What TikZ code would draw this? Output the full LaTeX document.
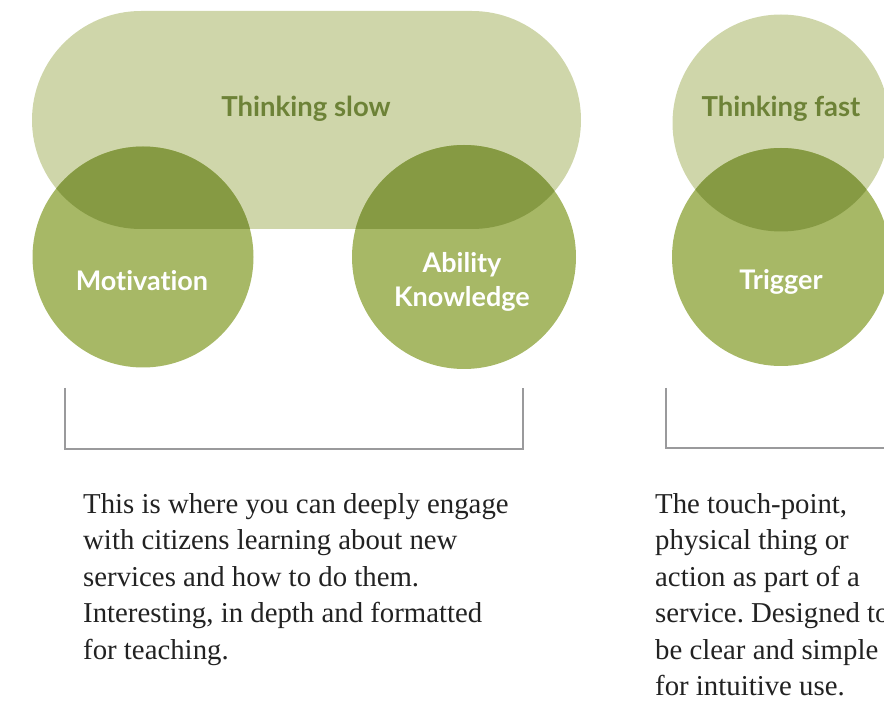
\documentclass[tikz,border=0pt]{standalone}
\usepackage{fontspec}
\setmainfont{Liberation Serif}
\newfontfamily\labelfont[Ligatures=NoCommon]{Lato}
\definecolor{lightg}{HTML}{CFD6AA}
\definecolor{midg}{HTML}{A7B866}
\definecolor{darkg}{HTML}{869A43}
\definecolor{titleg}{HTML}{6D8237}
\definecolor{bodytext}{HTML}{222222}
\definecolor{bracketg}{HTML}{9A9A9C}
\frenchspacing
\begin{document}
\begin{tikzpicture}[x=1pt,y=-1pt,
  lighttitle/.style={font=\labelfont\bfseries\fontsize{27.5}{30}\selectfont, text=titleg, inner sep=0pt},
  whitelabel/.style={font=\labelfont\bfseries\fontsize{27}{34}\selectfont, text=white, inner sep=0pt, align=center},
  bodyblock/.style={font=\fontsize{28.8}{36.5}\selectfont, text=bodytext, inner sep=0pt, align=left, anchor=base west},
  bracketline/.style={draw=bracketg, line width=1.1pt}]
\useasboundingbox (0,0) rectangle (884,703);
% light shapes
\fill[lightg, rounded corners=109pt] (32,11) rectangle (581,229);
\fill[lightg] (781,123) circle[radius=108.5pt];
% circles
\fill[midg] (143,257) circle[radius=110.5pt];
\fill[midg] (464,257) circle[radius=112pt];
\fill[midg] (781,257) circle[radius=109pt];
% overlaps
\begin{scope}
  \clip[rounded corners=109pt] (32,11) rectangle (581,229);
  \fill[darkg] (143,257) circle[radius=110.5pt];
  \fill[darkg] (464,257) circle[radius=112pt];
\end{scope}
\begin{scope}
  \clip (781,123) circle[radius=108.5pt];
  \fill[darkg] (781,257) circle[radius=109pt];
\end{scope}
% labels
\node[lighttitle] (slow) at (306,109) {Thinking slow};
\node[lighttitle] (fast) at (781,109) {Thinking fast};
\node[whitelabel] (motiv) at (142,281) {Motivation};
\node[whitelabel] (abil) at (462,282) {Ability\\Knowledge};
\node[whitelabel] (trig) at (781,282) {Trigger};
% brackets
\coordinate (la) at (65,388);
\coordinate (lb) at (65,449);
\coordinate (lc) at (523,449);
\coordinate (ld) at (523,388);
\draw[bracketline] (la) -- (lb) -- (lc) -- (ld);
\coordinate (ra) at (666,388);
\coordinate (rb) at (666,448);
\coordinate (rc) at (890,448);
\draw[bracketline] (ra) -- (rb) -- (rc);
% body text (anchored at the baseline of the last line)
\node[bodyblock] (ltext) at (83,659) {This is where you can deeply engage\\with citizens learning about new\\services and how to do them.\\Interesting, in depth and formatted\\for teaching.};
\node[bodyblock] (rtext) at (655,695.5) {The touch-point,\\physical thing or\\action as part of a\\service. Designed to\\be clear and simple\\for intuitive use.};
\end{tikzpicture}
\end{document}
